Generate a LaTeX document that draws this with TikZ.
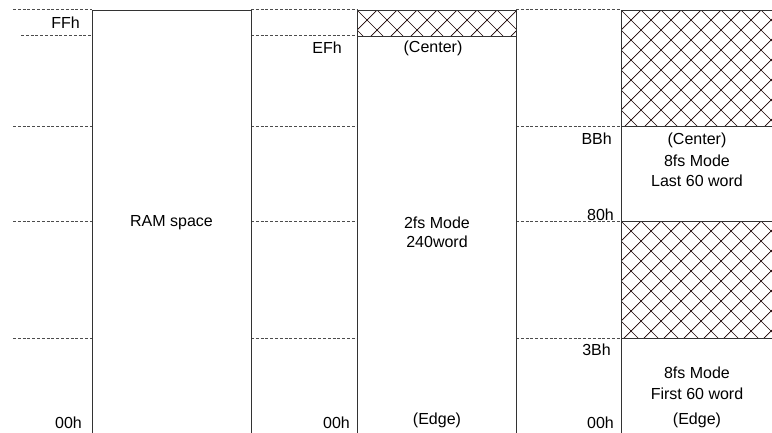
\documentclass[tikz,border=0pt]{standalone}
\usepackage{fontspec}
\setmainfont{Liberation Sans}
\begin{document}
\begin{tikzpicture}[x=1pt,y=-1pt,
  boxline/.style={draw=black!80,line width=0.9pt},
  guide/.style={draw=black!70,line width=0.7pt,dash pattern=on 3pt off 1.8pt},
  hatchline/.style={draw=black!75!red!40!black,line width=0.7pt},
  lbl/.style={font=\fontsize{16}{19}\selectfont,inner sep=0pt},
  addr/.style={lbl,anchor=east},
  addrbase/.style={lbl,anchor=base east}]
\useasboundingbox (0,0) rectangle (772,432);
\clip (0,0) rectangle (772,432);
% guide lines
\foreach \y/\xa in {9.5/13,126/13,221/13,338/13}{
  \draw[guide] (\xa,\y) -- (92,\y);
  \draw[guide] (251,\y) -- (357,\y);
  \draw[guide] (516,\y) -- (621,\y);
}
\draw[guide] (21,35.5) -- (92,35.5);
\draw[guide] (251,35.5) -- (357,35.5);
% hatching box2 top
\begin{scope}
  \clip (357,10) rectangle (516,36);
  \foreach \i in {-60,-40,...,200}{
    \draw[hatchline] (357+\i,10) -- ++(40,40);
    \draw[hatchline] (357+\i,10) -- ++(-40,40);
  }
\end{scope}
% hatching box3 top
\begin{scope}
  \clip (621,10) rectangle (780,126);
  \foreach \i in {-140,-120,...,300}{
    \draw[hatchline] (621+\i,10) -- ++(130,130);
    \draw[hatchline] (621+\i,10) -- ++(-130,130);
  }
\end{scope}
% hatching box3 middle
\begin{scope}
  \clip (621,221) rectangle (780,338);
  \foreach \i in {-140,-120,...,300}{
    \draw[hatchline] (621+\i,221) -- ++(130,130);
    \draw[hatchline] (621+\i,221) -- ++(-130,130);
  }
\end{scope}
% boxes
\draw[boxline] (92,440) -- (92,10) -- (251,10) -- (251,440);
\draw[boxline] (357,440) -- (357,10) -- (516,10) -- (516,440);
\draw[boxline] (357,36) -- (516,36);
\draw[boxline] (621,440) -- (621,10) -- (780,10);
\draw[boxline] (621,126) -- (780,126);
\draw[boxline] (621,221) -- (780,221);
\draw[boxline] (621,338) -- (780,338);
% address labels
\node[addr] (ffh) at (80,23) {FFh};
\node[addr] (efh) at (342,48) {EFh};
\node[addr] (bbh) at (612,139) {BBh};
\node[addr] (h80) at (614,215) {80h};
\node[addr] (h3b) at (611,350) {3Bh};
\node[addrbase] (z1) at (82,428) {00h};
\node[addrbase] (z2) at (350,428) {00h};
\node[addrbase] (z3) at (614,428) {00h};
% box texts
\node[lbl] (ram) at (171.5,223) {RAM space};
\node[lbl] (c2) at (433,48) {(Center)};
\node[lbl] (m2a) at (437,223) {2fs Mode};
\node[lbl] (m2b) at (437,242) {240word};
\node[lbl] (e2) at (437,420) {(Edge)};
\node[lbl] (c3) at (697,140) {(Center)};
\node[lbl] (m3a) at (697,161) {8fs Mode};
\node[lbl] (m3b) at (697,181) {Last 60 word};
\node[lbl] (m3c) at (697,373) {8fs Mode};
\node[lbl] (m3d) at (697,394) {First 60 word};
\node[lbl] (e3) at (697,420) {(Edge)};
\end{tikzpicture}
\end{document}
